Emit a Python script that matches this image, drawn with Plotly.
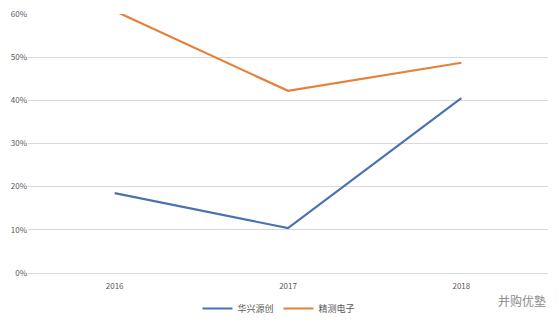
import plotly.graph_objects as go

years = ["2016", "2017", "2018"]
huaxing = [0.185, 0.104, 0.405]
jingce = [0.607, 0.422, 0.487]
series_names = ["华兴源创", "精测电子"]
y_ticks = [0, 0.1, 0.2, 0.3, 0.4, 0.5, 0.6]
y_tick_labels = ["0%", "10%", "20%", "30%", "40%", "50%", "60%"]

font_family = "Noto Sans CJK SC, DejaVu Sans, sans-serif"

fig = go.Figure()
fig.add_trace(go.Scatter(x=years, y=huaxing, mode="lines", name=series_names[0],
                         line=dict(color="#4a72b0", width=2.2), cliponaxis=False))
fig.add_trace(go.Scatter(x=years, y=jingce, mode="lines", name=series_names[1],
                         line=dict(color="#e58039", width=2.2), cliponaxis=False))

fig.update_layout(
    width=558, height=323,
    margin=dict(l=28, r=10, t=14, b=50, autoexpand=False),
    paper_bgcolor="white", plot_bgcolor="white",
    font=dict(family=font_family, size=8, color="#595959"),
    showlegend=True,
    legend=dict(orientation="h", x=0.5, xanchor="center", xref="container",
                y=0.0, yanchor="bottom", yref="container",
                font=dict(size=9, color="#595959"), itemwidth=30),
    xaxis=dict(type="category", showgrid=False, showline=False, ticks="outside",
               ticklen=5, tickcolor="rgba(0,0,0,0)",
               tickfont=dict(size=8, color="#595959"), range=[-0.5, 2.5],
               automargin=False),
    yaxis=dict(range=[0, 0.6], tickvals=y_ticks, ticktext=y_tick_labels,
               showgrid=True, gridcolor="#d9d9d9", gridwidth=1, zeroline=True,
               zerolinecolor="#d9d9d9", zerolinewidth=1, showline=False, ticks="",
               tickfont=dict(size=8, color="#595959"), automargin=False),
    annotations=[dict(text="并购优塾", xref="paper", yref="paper", x=1.0, y=-0.065,
                      xanchor="right", yanchor="top", showarrow=False,
                      font=dict(size=12, color="#8c8c8c", family=font_family))],
)

fig.write_html("out.html")
